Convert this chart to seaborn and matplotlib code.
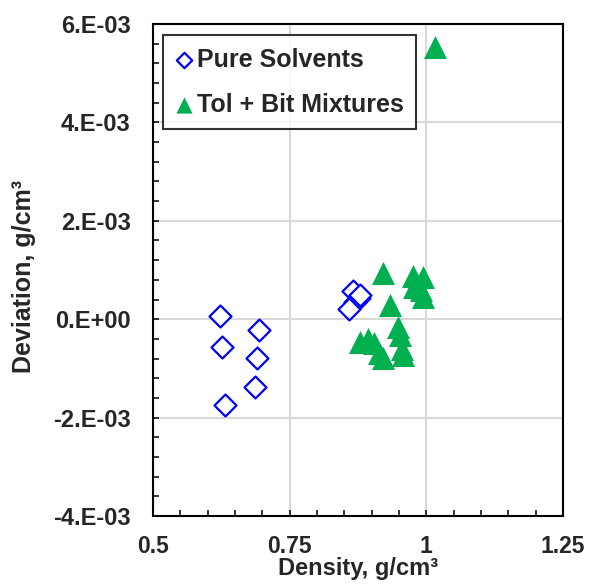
import numpy as np
import pandas as pd
import matplotlib
matplotlib.use('Agg')
import matplotlib.pyplot as plt
import seaborn as sns
from matplotlib.ticker import MultipleLocator, FuncFormatter

# data (deviation in units of 1e-3 g/cm3)
pure_density = [0.622, 0.693, 0.626, 0.690, 0.686, 0.631, 0.866, 0.877, 0.870, 0.858, 0.879]
pure_dev = [0.06, -0.22, -0.57, -0.79, -1.38, -1.74, 0.57, 0.43, 0.35, 0.20, 0.49]

mix_density = [1.015, 0.921, 0.976, 0.993, 0.978, 0.990, 0.993, 0.934, 0.949, 0.951,
               0.958, 0.955, 0.879, 0.893, 0.905, 0.914, 0.920]
mix_dev = [5.53, 0.93, 0.88, 0.85, 0.66, 0.60, 0.45, 0.28, -0.16, -0.32,
           -0.72, -0.60, -0.47, -0.41, -0.49, -0.68, -0.79]

pure = pd.DataFrame({'density': pure_density, 'dev': np.array(pure_dev) * 1e-3})
mix = pd.DataFrame({'density': mix_density, 'dev': np.array(mix_dev) * 1e-3})

sns.set_style('white')
plt.rcParams['font.family'] = ['Liberation Sans', 'DejaVu Sans']
plt.rcParams['font.weight'] = 'bold'

fig = plt.figure(figsize=(5.92, 5.84), dpi=100)
ax = fig.add_axes([153 / 592, 68 / 584, 410 / 592, 492 / 584])

sns.scatterplot(data=pure, x='density', y='dev', marker='D', s=125,
                facecolor='white', edgecolor='#0000FF', linewidth=1.6,
                label='Pure Solvents', ax=ax, zorder=3)
sns.scatterplot(data=mix, x='density', y='dev', marker='^', s=275,
                color='#00B050', edgecolor='#00B050', linewidth=0,
                label='Tol + Bit Mixtures', ax=ax, zorder=3)

ax.set_xlim(0.5, 1.25)
ax.set_ylim(-4e-3, 6e-3)
ax.xaxis.set_major_locator(MultipleLocator(0.25))
ax.xaxis.set_minor_locator(MultipleLocator(0.05))
ax.yaxis.set_major_locator(MultipleLocator(2e-3))
ax.yaxis.set_minor_locator(MultipleLocator(0.4e-3))
ax.xaxis.set_major_formatter(FuncFormatter(lambda v, p: f'{v:g}'))
ax.yaxis.set_major_formatter(FuncFormatter(lambda v, p: format(round(v, 6), '#.0E')))

ax.grid(True, which='major', color='#D9D9D9', linewidth=1.5, zorder=0)
ax.set_axisbelow(True)
for sp in ax.spines.values():
    sp.set_color('black')
    sp.set_linewidth(1.5)
ax.tick_params(which='both', direction='in', length=4, width=1.1, color='black',
               bottom=True, left=True, top=False, right=False)
ax.tick_params(axis='y', which='major', labelsize=17, pad=16)
ax.tick_params(axis='x', which='major', labelsize=16.5, pad=14)

ax.set_xlabel('Density, g/cm³', fontsize=17, fontweight='bold')
ax.set_ylabel('Deviation, g/cm³', fontsize=18, fontweight='bold')
ax.xaxis.set_label_coords(0.5, -0.083)
ax.yaxis.set_label_coords(-0.285, 0.487)
ax.xaxis.label.set_va('top')

leg = ax.legend(loc='upper left', bbox_to_anchor=(0.0244, 0.9776), borderaxespad=0,
                fancybox=False, frameon=True, markerscale=0.7, fontsize=18,
                handletextpad=0.15, handlelength=0.7, labelspacing=0.85,
                borderpad=0.5)
leg.get_frame().set_edgecolor('black')
leg.get_frame().set_linewidth(1.5)

plt.savefig('out.png', dpi=100)
